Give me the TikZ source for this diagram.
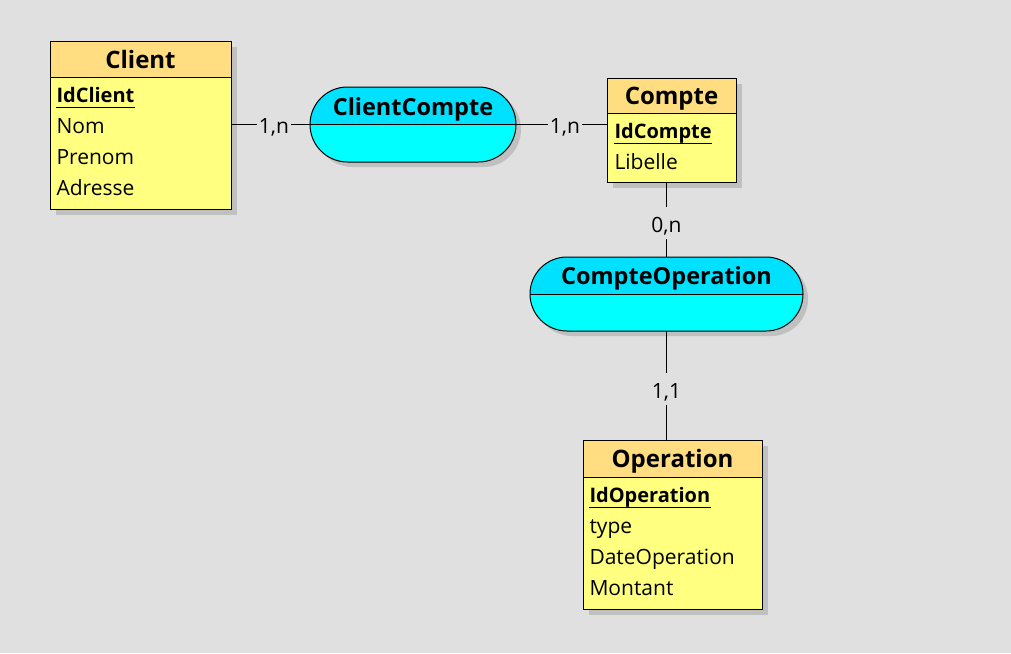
\documentclass[tikz,border=0pt]{standalone}
\usepackage{fontspec}
\setmainfont{Open Sans}
\usetikzlibrary{positioning,shapes.misc,shadows}
\definecolor{bggray}{HTML}{E0E0E0}
\definecolor{headfill}{HTML}{FFDD80}
\definecolor{bodyfill}{HTML}{FFFF80}
\definecolor{assoctop}{HTML}{00E0FF}
\definecolor{assocfill}{HTML}{00FFFF}
\definecolor{shadowgray}{HTML}{C0C0C0}

\begin{document}
\begin{tikzpicture}[
  x=1pt, y=-1pt,
  line width=1pt,
  font=\fontsize{21}{25}\selectfont,
  boxshadow/.style={drop shadow={shadow xshift=6pt, shadow yshift=-6pt,
              fill=shadowgray, opacity=1}},
  ashadow/.style={drop shadow={shadow xshift=5pt, shadow yshift=-5pt,
              fill=shadowgray, opacity=1}},
  head/.style={draw=black, fill=headfill, inner sep=0pt, outer sep=0pt,
              text height=21pt, text depth=3pt,
              font=\fontsize{24}{28}\selectfont\bfseries, boxshadow},
  body/.style={draw=black, fill=bodyfill, inner sep=0pt, outer sep=0pt, boxshadow},
  attr/.style={anchor=base west, inner sep=0pt},
  key/.style={attr, font=\fontsize{20}{24}\selectfont\bfseries},
  assoc/.style={rounded rectangle, draw=black, fill=assocfill, inner sep=0pt,
              outer sep=0pt, ashadow,
              path picture={\fill[assoctop] (path picture bounding box.north west)
                rectangle (path picture bounding box.east);}},
  asname/.style={anchor=base, inner sep=0pt, font=\fontsize{23.5}{28}\selectfont\bfseries},
  card/.style={fill=bggray, inner xsep=1.5pt, inner ysep=0pt,
              text height=25pt, text depth=7pt},
  link/.style={draw=black}
]
\useasboundingbox[fill=bggray] (0,0) rectangle (1011,653);

% entities
\node[head, minimum width=181, minimum height=36] (clienth) at (140.5,59) {Client};
\node[body, minimum width=181, minimum height=132, below=0pt of clienth] (clientb) {};
\node[head, minimum width=129, minimum height=35] (compteh) at (671.5,95.5) {Compte};
\node[body, minimum width=129, minimum height=69, below=0pt of compteh] (compteb) {};
\node[head, minimum width=179, minimum height=37] (operationh) at (672.5,458.5) {Operation};
\node[body, minimum width=179, minimum height=132, below=0pt of operationh] (operationb) {};

% attributes
\node[key] (idclient) at (56,102) {IdClient};
\foreach \t [count=\i] in {Nom,Prenom,Adresse}
  \node[attr] (client\i) at (56,{102+31*\i}) {\t};
\node[key] (idcompte) at (614,138) {IdCompte};
\node[attr] (compte1) at (614,169) {Libelle};
\node[key] (idoperation) at (589,502) {IdOperation};
\foreach \t [count=\i] in {type,DateOperation,Montant}
  \node[attr] (operation\i) at (589,{502+31.3*\i}) {\t};
\foreach \k in {idclient,idcompte,idoperation}
  \draw ([yshift=-5pt]\k.base west) -- ([yshift=-5pt]\k.base east);

% associations
\node[assoc, minimum width=206, minimum height=75] (cc) at (413,124.5) {};
\draw (cc.west) -- (cc.east);
\node[asname] (ccname) at (413,115) {ClientCompte};
\node[assoc, minimum width=273, minimum height=74] (co) at (666.5,294) {};
\draw (co.west) -- (co.east);
\node[asname] (coname) at (666.5,284) {CompteOperation};

% links
\draw[link] (clientb.east |- cc.west) -- node[card, xshift=3.5pt] {1,n} (cc.west);
\draw[link] (cc.east) -- node[card, xshift=3.5pt] {1,n} (compteb.west |- cc.east);
\draw[link] (co.north |- compteb.south) -- node[card, yshift=-3.5pt] {0,n} (co.north);
\draw[link] (co.south) -- node[card, yshift=-3.5pt] {1,1} (co.south |- operationh.north);
\end{tikzpicture}
\end{document}
